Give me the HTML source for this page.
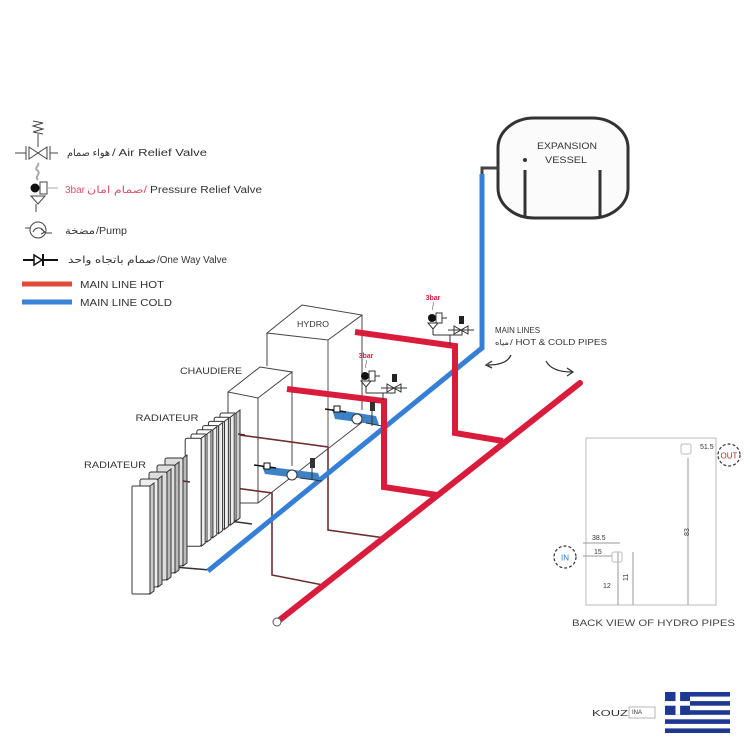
<!DOCTYPE html>
<html><head><meta charset="utf-8"><style>
html,body{margin:0;padding:0;background:#fff;}
svg{display:block;}
text{font-family:"Liberation Sans","DejaVu Sans",sans-serif;}
</style></head><body>
<svg width="750" height="750" viewBox="0 0 750 750" xmlns="http://www.w3.org/2000/svg">
<rect width="750" height="750" fill="#fff"/>

<!-- ===== LEGEND ===== -->
<g stroke="#444" fill="none" stroke-width="1">
  <path d="M33,121 L43,123 L33,126 L43,129 L33,132 L43,134"/>
  <line x1="38" y1="134" x2="38" y2="147"/>
  <path d="M29,147 L29,159 L38,153 Z M47,147 L47,159 L38,153 Z"/>
  <line x1="26" y1="146" x2="26" y2="160"/><line x1="50" y1="146" x2="50" y2="160"/>
  <line x1="15" y1="153" x2="26" y2="153"/><line x1="50" y1="153" x2="58" y2="153"/>
  <path d="M38,180 C34,176 42,174 37,170 C34,167 40,166 38,163" stroke="#aaa" stroke-width="2"/>
  <rect x="40" y="182" width="7" height="12"/>
  <line x1="47" y1="188" x2="58" y2="188" stroke="#aaa"/>
  <path d="M31,196 L45,196 L38,204 Z"/>
  <line x1="36" y1="204" x2="36" y2="212"/>
  <circle cx="38" cy="230" r="8"/>
  <path d="M33,232 C36,226 42,227 44,232 M41,229 L45,232 L41,234"/>
  <line x1="25" y1="228" x2="30" y2="228"/><line x1="46" y1="233" x2="52" y2="233"/>
  <line x1="23" y1="260" x2="58" y2="260" stroke="#111" stroke-width="2"/>
  <path d="M34,255 L34,265 L42,260 Z" stroke="#111" stroke-width="1.5" fill="#fff"/>
  <line x1="43" y1="254" x2="43" y2="266" stroke="#111" stroke-width="2"/>
</g>
<circle cx="35" cy="188" r="4.5" fill="#111"/>

<line x1="22" y1="284" x2="72" y2="284" stroke="#e04a3a" stroke-width="5"/>
<line x1="22" y1="302" x2="72" y2="302" stroke="#3a82d6" stroke-width="5"/>

<g font-size="10" fill="#333">
  <text x="67" y="156" font-family="DejaVu Sans,sans-serif" textLength="43" lengthAdjust="spacingAndGlyphs">هواء صمام</text>
  <text x="112" y="156" textLength="95" lengthAdjust="spacingAndGlyphs">/ Air Relief Valve</text>
  <text x="65" y="193" fill="#e0506a" textLength="20" lengthAdjust="spacingAndGlyphs">3bar</text>
  <text x="87" y="193" fill="#e0506a" font-family="DejaVu Sans,sans-serif" textLength="60" lengthAdjust="spacingAndGlyphs">صمام امان/</text>
  <text x="150" y="193" textLength="112" lengthAdjust="spacingAndGlyphs">Pressure Relief Valve</text>
  <text x="65" y="234" font-family="DejaVu Sans,sans-serif" textLength="30" lengthAdjust="spacingAndGlyphs">مضخة</text>
  <text x="96" y="234" textLength="31" lengthAdjust="spacingAndGlyphs">/Pump</text>
  <text x="68" y="263" font-family="DejaVu Sans,sans-serif" textLength="88" lengthAdjust="spacingAndGlyphs">صمام باتجاه واحد</text>
  <text x="157" y="263" textLength="70" lengthAdjust="spacingAndGlyphs">/One Way Valve</text>
  <text x="80" y="288" textLength="84" lengthAdjust="spacingAndGlyphs">MAIN LINE HOT</text>
  <text x="80" y="306" textLength="92" lengthAdjust="spacingAndGlyphs">MAIN LINE COLD</text>
</g>

<!-- ===== EXPANSION VESSEL ===== -->
<rect x="498" y="118" width="130" height="100" rx="36" ry="30" fill="#fbfbfb" stroke="#333" stroke-width="3"/>
<line x1="525" y1="170" x2="525" y2="216" stroke="#333" stroke-width="3"/>
<line x1="600" y1="170" x2="600" y2="216" stroke="#333" stroke-width="3"/>
<circle cx="525" cy="160" r="2" fill="#333"/>
<text x="567" y="149" font-size="9" fill="#333" text-anchor="middle" textLength="60" lengthAdjust="spacingAndGlyphs">EXPANSION</text>
<text x="566" y="163" font-size="9" fill="#333" text-anchor="middle" textLength="42" lengthAdjust="spacingAndGlyphs">VESSEL</text>
<polyline points="498,168 482,168 482,176" fill="none" stroke="#444" stroke-width="3"/>

<!-- ===== BOXES ===== -->
<g stroke="#444" stroke-width="1" fill="none">
  <polygon points="267,333 302,305 362,315 328,340"/>
  <line x1="267" y1="333" x2="267" y2="366"/>
  <line x1="362" y1="315" x2="362" y2="410"/>
  <polygon points="228,392 260,367 292,372 258,398"/>
  <line x1="228" y1="392" x2="228" y2="420"/>
  <line x1="258" y1="398" x2="258" y2="503"/>
  <line x1="292" y1="372" x2="292" y2="466"/>
  <line x1="237" y1="503" x2="258" y2="503"/>
  <line x1="237" y1="440" x2="237" y2="503"/>
  <line x1="258" y1="503" x2="365" y2="420"/>
</g>
<text x="313" y="327" font-size="8.5" fill="#333" text-anchor="middle" textLength="32" lengthAdjust="spacingAndGlyphs">HYDRO</text>
<text x="211" y="374" font-size="9" fill="#333" text-anchor="middle" textLength="62" lengthAdjust="spacingAndGlyphs">CHAUDIERE</text>
<text x="167" y="421" font-size="9" fill="#333" text-anchor="middle" textLength="63" lengthAdjust="spacingAndGlyphs">RADIATEUR</text>
<text x="115" y="468" font-size="9" fill="#333" text-anchor="middle" textLength="62" lengthAdjust="spacingAndGlyphs">RADIATEUR</text>

<!-- ===== thin pipe connections ===== -->
<g stroke="#6e2f30" stroke-width="1.6" fill="none">
  <polyline points="232,434 328,447 328,530 385,538"/>
  <line x1="328" y1="340" x2="328" y2="447" stroke="#555" stroke-width="1"/>
  <polyline points="175,480 272,493 272,575 323,585"/>
  <line x1="150" y1="565" x2="210" y2="570" stroke="#333"/>
  <line x1="207" y1="518" x2="252" y2="524" stroke="#333"/>
</g>

<!-- ===== BLUE MAIN ===== -->
<polyline points="482,174 482,348 208,571" fill="none" stroke="#3580d6" stroke-width="5" stroke-linejoin="miter"/>

<!-- ===== RED PIPES ===== -->
<g fill="none" stroke="#d91c3c" stroke-width="6" stroke-linejoin="miter">
  <line x1="277" y1="622" x2="580" y2="383" stroke-linecap="round"/>
  <polyline points="355,332 455,346 455,433 503,441"/>
  <polyline points="287,389 384,401 384,487 437,495"/>
</g>
<circle cx="277" cy="622" r="4" fill="#fff" stroke="#555" stroke-width="1"/>

<!-- ===== BLUE VALVE GROUPS ===== -->
<g>
  <path d="M332,409 L376,416 L379,425 L335,419 Z" fill="#3d82c4"/>
  <line x1="325" y1="409" x2="346" y2="412" stroke="#111" stroke-width="1.5"/>
  <rect x="334" y="406" width="6" height="6" fill="#fff" stroke="#111"/>
  <circle cx="357" cy="419" r="5" fill="#fff" stroke="#333"/>
  <rect x="370" y="402" width="5" height="9" fill="#333"/>
  <line x1="372" y1="411" x2="372" y2="426" stroke="#333"/>
  <line x1="366" y1="423" x2="382" y2="426" stroke="#333"/>

  <path d="M262,466 L318,473 L321,481 L265,474 Z" fill="#3d82c4"/>
  <line x1="254" y1="465" x2="276" y2="468" stroke="#111" stroke-width="1.5"/>
  <rect x="264" y="463" width="6" height="6" fill="#fff" stroke="#111"/>
  <circle cx="292" cy="475" r="5" fill="#fff" stroke="#333"/>
  <rect x="310" y="458" width="5" height="10" fill="#333"/>
  <line x1="312" y1="468" x2="312" y2="480" stroke="#333"/>
  <line x1="300" y1="478" x2="322" y2="481" stroke="#333"/>
</g>

<!-- ===== PRESSURE RELIEF ON RED ===== -->
<g>
  <text x="433" y="300" font-size="7" font-weight="bold" fill="#e0203a" text-anchor="middle">3bar</text>
  <path d="M433,310 C431,307 435,305 433,302" stroke="#999" fill="none"/>
  <circle cx="432" cy="318" r="4" fill="#111"/>
  <rect x="436" y="313" width="6" height="10" fill="#fff" stroke="#333"/>
  <line x1="442" y1="318" x2="447" y2="318" stroke="#333"/>
  <path d="M428,323 L438,323 L433,329 Z" fill="#fff" stroke="#333"/>
  <line x1="433" y1="329" x2="433" y2="335" stroke="#333"/>
  <rect x="459" y="316" width="5" height="8" fill="#222"/>
  <path d="M454,326 L454,334 L461,330 Z M468,326 L468,334 L461,330 Z" fill="#fff" stroke="#333"/>
  <line x1="448" y1="330" x2="474" y2="330" stroke="#333"/>
  <polyline points="433,335 462,335 462,330" fill="none" stroke="#333"/>
  <line x1="450" y1="335" x2="450" y2="345" stroke="#333"/>
</g>
<g transform="translate(-67,58)">
  <text x="433" y="300" font-size="7" font-weight="bold" fill="#e0203a" text-anchor="middle">3bar</text>
  <path d="M433,310 C431,307 435,305 433,302" stroke="#999" fill="none"/>
  <circle cx="432" cy="318" r="4" fill="#111"/>
  <rect x="436" y="313" width="6" height="10" fill="#fff" stroke="#333"/>
  <line x1="442" y1="318" x2="447" y2="318" stroke="#333"/>
  <path d="M428,323 L438,323 L433,329 Z" fill="#fff" stroke="#333"/>
  <line x1="433" y1="329" x2="433" y2="335" stroke="#333"/>
  <rect x="459" y="316" width="5" height="8" fill="#222"/>
  <path d="M454,326 L454,334 L461,330 Z M468,326 L468,334 L461,330 Z" fill="#fff" stroke="#333"/>
  <line x1="448" y1="330" x2="474" y2="330" stroke="#333"/>
  <polyline points="433,335 462,335 462,330" fill="none" stroke="#333"/>
  <line x1="450" y1="335" x2="450" y2="342" stroke="#333"/>
</g>

<!-- ===== MAIN LINES label + arrows ===== -->
<text x="495" y="333" font-size="8" fill="#333" textLength="45" lengthAdjust="spacingAndGlyphs">MAIN LINES</text>
<text x="495" y="345" font-size="8" fill="#333" font-family="DejaVu Sans,sans-serif" textLength="14" lengthAdjust="spacingAndGlyphs">مياه</text>
<text x="510" y="345" font-size="8" fill="#333" textLength="97" lengthAdjust="spacingAndGlyphs">/ HOT &amp; COLD PIPES</text>
<g fill="none" stroke="#333" stroke-width="1.3">
  <path d="M511,355 C508,362 500,365 488,365"/>
  <path d="M492,361 L486,365 L492,368"/>
  <path d="M546,361 C550,369 560,372 572,372"/>
  <path d="M567,368 L573,372 L567,376"/>
</g>

<!-- ===== RADIATOR 2 (upper, 7 fins) ===== -->
<g stroke="#333" stroke-width="1">
  <g><polygon points="236,413 240,410 240,518 236,521" fill="#ccc"/><rect x="220" y="413" width="16" height="108" rx="2" fill="#fff"/></g>
  <g><polygon points="230.2,417.2 234.2,414.2 234.2,522.2 230.2,525.2" fill="#eee"/><rect x="214.2" y="417.2" width="16" height="108" rx="2" fill="#fff"/></g>
  <g><polygon points="224.4,421.4 228.4,418.4 228.4,526.4 224.4,529.4" fill="#eee"/><rect x="208.4" y="421.4" width="16" height="108" rx="2" fill="#fff"/></g>
  <g><polygon points="218.6,425.6 222.6,422.6 222.6,530.6 218.6,533.6" fill="#eee"/><rect x="202.6" y="425.6" width="16" height="108" rx="2" fill="#fff"/></g>
  <g><polygon points="212.8,429.8 216.8,426.8 216.8,534.8 212.8,537.8" fill="#eee"/><rect x="196.8" y="429.8" width="16" height="108" rx="2" fill="#fff"/></g>
  <g><polygon points="207,434 211,431 211,539 207,542" fill="#eee"/><rect x="191" y="434" width="16" height="108" rx="2" fill="#fff"/></g>
  <g><polygon points="201.2,438.2 205.2,435.2 205.2,543.2 201.2,546.2" fill="#eee"/><rect x="185.2" y="438.2" width="16" height="108" rx="2" fill="#fff"/></g>
</g>

<!-- ===== RADIATOR 1 (lower, 5 fins) ===== -->
<g stroke="#333" stroke-width="1">
  <g><polygon points="183,458 187,455 187,563 183,566" fill="#bbb"/><rect x="165" y="458" width="18" height="108" rx="2" fill="#ddd"/></g>
  <g><polygon points="175,465 179,462 179,570 175,573" fill="#bbb"/><rect x="157" y="465" width="18" height="108" rx="2" fill="#ddd"/></g>
  <g><polygon points="167,472 171,469 171,577 167,580" fill="#bbb"/><rect x="149" y="472" width="18" height="108" rx="2" fill="#ddd"/></g>
  <g><polygon points="158,479 162,476 162,584 158,587" fill="#bbb"/><rect x="140" y="479" width="18" height="108" rx="2" fill="#eee"/></g>
  <g><polygon points="150,486 154,483 154,591 150,594" fill="#ccc"/><rect x="132" y="486" width="18" height="108" rx="1" fill="#fff"/></g>
</g>
<g stroke="#5a2a2a" stroke-width="1.6">
  <line x1="183" y1="481" x2="190" y2="482"/>
  <line x1="238" y1="434" x2="245" y2="435"/>
</g>

<!-- ===== BACK VIEW ===== -->
<g stroke="#bbb" stroke-width="1" fill="none">
  <rect x="586" y="438" width="130" height="167"/>
  <line x1="688" y1="458" x2="688" y2="605" stroke="#999"/>
  <line x1="618" y1="552" x2="618" y2="605" stroke="#999"/>
  <line x1="633" y1="552" x2="633" y2="605" stroke="#999"/>
  <line x1="583" y1="543" x2="620" y2="543" stroke="#999"/>
  <line x1="583" y1="556" x2="612" y2="556" stroke="#999"/>
  <rect x="681" y="444" width="10" height="10" rx="2"/>
  <rect x="612" y="552" width="10" height="10" rx="2"/>
</g>
<circle cx="729" cy="455" r="11" fill="#fff" stroke="#333" stroke-width="1.2" stroke-dasharray="3,2"/>
<text x="729" y="458.5" font-size="8" fill="#c02020" text-anchor="middle" font-family="Liberation Serif,serif">OUT</text>
<circle cx="565" cy="557" r="11" fill="#fff" stroke="#333" stroke-width="1.2" stroke-dasharray="3,2"/>
<text x="565" y="560.5" font-size="8" fill="#2a7ad0" text-anchor="middle" font-family="Liberation Serif,serif">IN</text>
<g font-size="7" fill="#333" font-family="Liberation Serif,serif">
  <text x="700" y="449">51.5</text>
  <text x="592" y="540">38.5</text>
  <text x="594" y="554">15</text>
  <text x="683" y="536" transform="rotate(-90 686 533)">83</text>
  <text x="603" y="588">12</text>
  <text x="622" y="581" transform="rotate(-90 625 578)">11</text>
</g>
<text x="572" y="626" font-size="9.5" fill="#444" font-family="Liberation Serif,serif" textLength="163" lengthAdjust="spacingAndGlyphs">BACK VIEW OF HYDRO PIPES</text>

<!-- ===== LOGO + FLAG ===== -->
<text x="592" y="716" font-size="8" fill="#333" textLength="36" lengthAdjust="spacingAndGlyphs">KOUZ</text>
<rect x="629" y="707" width="26" height="11" fill="none" stroke="#888" stroke-width="0.6"/>
<text x="632" y="714" font-size="6" fill="#333">INA</text>
<g>
  <rect x="665" y="692" width="65" height="41" fill="#fff"/>
  <rect x="665" y="692" width="65" height="4.6" fill="#1f3891"/>
  <rect x="665" y="701.1" width="65" height="4.6" fill="#1f3891"/>
  <rect x="665" y="710.2" width="65" height="4.6" fill="#1f3891"/>
  <rect x="665" y="719.3" width="65" height="4.6" fill="#1f3891"/>
  <rect x="665" y="728.4" width="65" height="4.6" fill="#1f3891"/>
  <rect x="665" y="692" width="25" height="22.8" fill="#1f3891"/>
  <rect x="675.5" y="692" width="4.6" height="22.8" fill="#fff"/>
  <rect x="665" y="701.1" width="25" height="4.6" fill="#fff"/>
</g>
</svg>
</body></html>
